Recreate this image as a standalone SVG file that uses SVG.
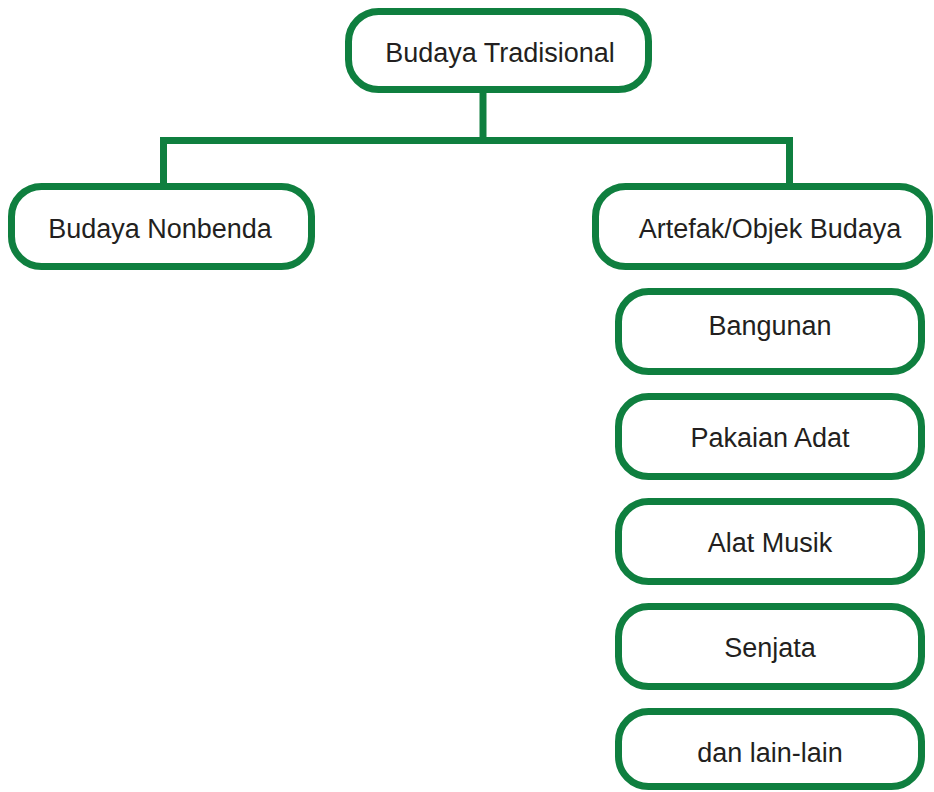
<svg xmlns="http://www.w3.org/2000/svg" width="934" height="792" viewBox="0 0 934 792">
<style>
.box{fill:#fff;stroke:#0f7f3f;stroke-width:7}
.conn{fill:none;stroke:#0f7f3f;stroke-width:7;stroke-linejoin:miter}
.t{font-family:"Liberation Sans",Arial,sans-serif;font-size:27px;fill:#231f20;text-anchor:middle}
</style>
<rect width="934" height="792" fill="#fff"/>
<g id="connectors">
<path class="conn" d="M483,90 V140.5"/>
<path class="conn" d="M163.5,187 V140.5 H789.5 V187"/>
</g>
<g id="n-budaya-tradisional">
<rect class="box" x="348.5" y="11.5" width="300" height="78" rx="30"/>
<text class="t" x="500" y="61.5">Budaya Tradisional</text>
</g>
<g id="n-budaya-nonbenda">
<rect class="box" x="11.5" y="186.5" width="300" height="80" rx="30"/>
<text class="t" x="160" y="238">Budaya Nonbenda</text>
</g>
<g id="n-artefak">
<rect class="box" x="595.5" y="186.5" width="334" height="80" rx="30"/>
<text class="t" x="770" y="238">Artefak/Objek Budaya</text>
</g>
<g id="n-bangunan">
<rect class="box" x="618.5" y="291.5" width="303" height="80" rx="30"/>
<text class="t" x="770" y="335">Bangunan</text>
</g>
<g id="n-pakaian-adat">
<rect class="box" x="618.5" y="396.5" width="303" height="80" rx="30"/>
<text class="t" x="770" y="446.5">Pakaian Adat</text>
</g>
<g id="n-alat-musik">
<rect class="box" x="618.5" y="501.5" width="303" height="80" rx="30"/>
<text class="t" x="770" y="551.5">Alat Musik</text>
</g>
<g id="n-senjata">
<rect class="box" x="618.5" y="606.5" width="303" height="80" rx="30"/>
<text class="t" x="770" y="656.5">Senjata</text>
</g>
<g id="n-dan-lain-lain">
<rect class="box" x="618.5" y="711.5" width="303" height="75" rx="30"/>
<text class="t" x="770" y="761.5">dan lain-lain</text>
</g>
</svg>
